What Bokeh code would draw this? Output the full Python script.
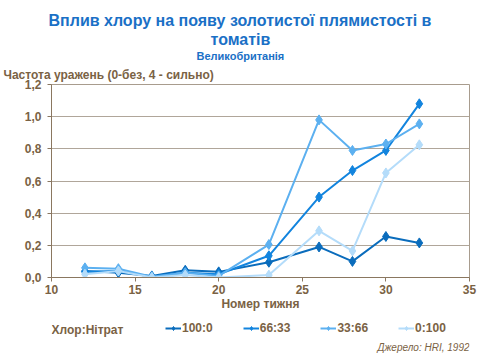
from bokeh.plotting import figure
from bokeh.layouts import column
from bokeh.models import (Range1d, FixedTicker, CustomJSTickFormatter, Title,
                          Legend, LegendItem, Label)
from bokeh.embed import file_html
from bokeh.resources import INLINE

weeks = [12, 14, 16, 18, 20, 23, 26, 28, 30, 32]
s_100_0 = [0.04, 0.03, 0.01, 0.045, 0.035, 0.095, 0.19, 0.10, 0.255, 0.215]
s_66_33 = [0.035, 0.04, 0.005, 0.03, 0.02, 0.135, 0.50, 0.665, 0.79, 1.08]
s_33_66 = [0.06, 0.055, 0.005, 0.03, 0.01, 0.205, 0.98, 0.79, 0.83, 0.955]
s_0_100 = [0.02, 0.04, 0.0, 0.015, 0.0, 0.015, 0.29, 0.165, 0.65, 0.825]
series_names = ["100:0", "66:33", "33:66", "0:100"]
series_vals = [s_100_0, s_66_33, s_33_66, s_0_100]
colors = ["#0a6cbc", "#1284de", "#5cb0f0", "#b4dcfa"]
x_ticks = [10, 15, 20, 25, 30, 35]
y_ticks = [0.0, 0.2, 0.4, 0.6, 0.8, 1.0, 1.2]

BROWN = "#7a6244"
BLUE = "#1a70c6"
FONT = "Liberation Sans"


def strip(h, top=0):
    f = figure(frame_width=418, frame_height=h, output_backend="svg",
               toolbar_location=None, title=None,
               x_range=Range1d(100, 200), y_range=Range1d(100, 200),
               min_border_left=51, min_border_right=11, min_border_top=top,
               min_border_bottom=0, x_axis_location=None, y_axis_location=None)
    f.outline_line_color = None
    f.grid.visible = False
    f.background_fill_color = "white"
    f.border_fill_color = "white"
    return f


# top strip: title lines
p0 = strip(1, top=61)
for txt, size, off in [("Великобританія", "11px", 145),
                       ("томатів", "16px", 159),
                       ("Вплив хлору на появу золотистої плямистості в", "16px", -3)]:
    p0.add_layout(Title(text=txt, align="left", offset=off, text_font=FONT,
                        text_font_size=size, text_font_style="bold",
                        text_color=BLUE, standoff=0), "above")

# main chart
p = figure(frame_width=418, frame_height=193, output_backend="svg",
           toolbar_location=None,
           x_range=Range1d(10, 35), y_range=Range1d(0, 1.2),
           min_border_left=51, min_border_right=11, min_border_top=22,
           min_border_bottom=40)
p.background_fill_color = "white"
p.border_fill_color = "white"
p.outline_line_color = "#a89c8e"
p.outline_line_width = 1
p.xgrid.visible = False
p.ygrid.grid_line_color = "#b0a69a"
p.ygrid.grid_line_width = 1

for ax in (p.xaxis[0], p.yaxis[0]):
    ax.axis_line_color = "#8a7760"
    ax.major_tick_line_color = "#8a7760"
    ax.minor_tick_line_color = None
    ax.major_tick_in = 0
    ax.major_tick_out = 4
    ax.major_label_text_color = BROWN
    ax.major_label_text_font = FONT
    ax.major_label_text_font_size = "12px"
    ax.major_label_text_font_style = "bold"

p.xaxis.ticker = FixedTicker(ticks=x_ticks)
p.yaxis.ticker = FixedTicker(ticks=y_ticks)
p.yaxis.formatter = CustomJSTickFormatter(code="return tick.toFixed(1).replace('.', ',');")
p.xaxis.major_label_standoff = 3
p.yaxis.major_label_standoff = 6
p.xaxis.axis_label = "Номер тижня"
p.xaxis.axis_label_text_font = FONT
p.xaxis.axis_label_text_font_size = "12px"
p.xaxis.axis_label_text_font_style = "bold"
p.xaxis.axis_label_text_color = BROWN
p.xaxis.axis_label_standoff = 0

for vals, c in zip(series_vals, colors):
    p.line(weeks, vals, line_color=c, line_width=2)
    p.scatter(weeks, vals, marker="diamond", size=10, fill_color=c, line_color=c)

p.title.text = ""
p.add_layout(Title(text="Частота уражень (0-без, 4 - сильно)", align="left",
                   offset=-48, text_font=FONT, text_font_size="12px",
                   text_font_style="bold", text_color=BROWN, standoff=6), "above")

# bottom strip: legend + source note
p2 = strip(43)
items = []
for name, vals, c in zip(series_names, series_vals, colors):
    r1 = p2.line(weeks, vals, line_color=c, line_width=2)
    r2 = p2.scatter(weeks, vals, marker="diamond", size=8, fill_color=c, line_color=c)
    items.append(LegendItem(label=name, renderers=[r1, r2]))

legend = Legend(items=items, orientation="horizontal", location=(114, 25),
                label_text_font=FONT, label_text_font_size="12px",
                label_text_font_style="bold", label_text_color=BROWN,
                glyph_width=16, glyph_height=10, spacing=30, padding=0,
                margin=0, label_standoff=1, border_line_color=None,
                background_fill_alpha=0, label_height=14)
p2.add_layout(legend, "center")

p2.add_layout(Label(x=0, y=31, x_units="screen", y_units="screen",
                    text="Хлор:Нітрат", text_font=FONT, text_font_size="12px",
                    text_font_style="bold", text_color=BROWN,
                    text_baseline="middle", text_align="left"))
p2.add_layout(Label(x=418, y=13, x_units="screen", y_units="screen",
                    text="Джерело: HRI, 1992", text_font=FONT, text_font_size="10px",
                    text_font_style="italic", text_color=BROWN,
                    text_baseline="middle", text_align="right"))

layout = column(p0, p, p2, spacing=0)
open("out.html", "w").write(file_html(layout, INLINE))
